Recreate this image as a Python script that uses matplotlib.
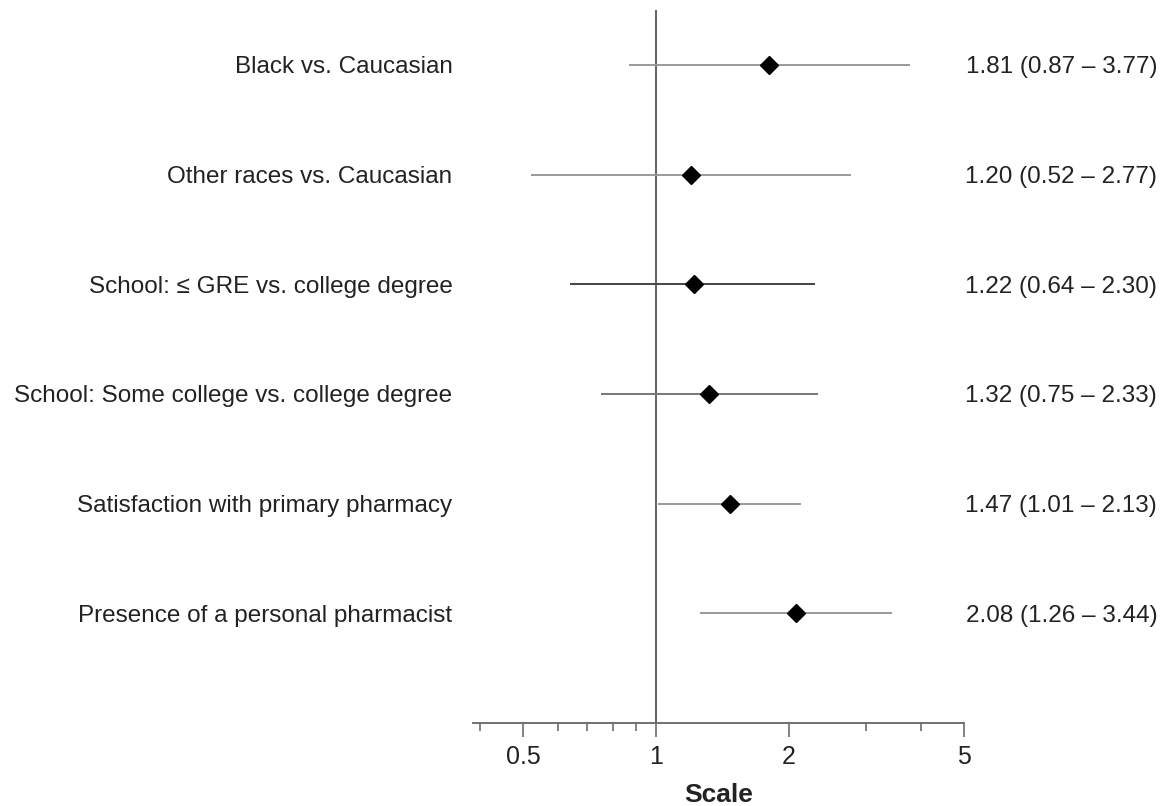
import matplotlib
matplotlib.use("Agg")
import matplotlib.pyplot as plt
from matplotlib.ticker import FixedLocator, NullFormatter
from matplotlib.transforms import offset_copy

plt.rcParams['font.family'] = ['Liberation Sans', 'DejaVu Sans']

labels = [
    "Black vs. Caucasian",
    "Other races vs. Caucasian",
    "School: \u2264 GRE vs. college degree",
    "School: Some college vs. college degree",
    "Satisfaction with primary pharmacy",
    "Presence of a personal pharmacist",
]
odds = [1.81, 1.20, 1.22, 1.32, 1.47, 2.08]
lower = [0.87, 0.52, 0.64, 0.75, 1.01, 1.26]
upper = [3.77, 2.77, 2.30, 2.33, 2.13, 3.44]
line_colors = ["#9a9a9a", "#9a9a9a", "#444444", "#777777", "#9a9a9a", "#9a9a9a"]

major_ticks = [0.5, 1, 2, 5]
minor_ticks = [0.4, 0.6, 0.7, 0.8, 0.9, 3, 4]

fig = plt.figure(figsize=(11.71, 8.06), dpi=100)
ax = fig.add_axes([473/1171, 1-723/806, (964-473)/1171, (723-10)/806])
ax.set_xscale('log')
ax.set_xlim(0.385, 5)
ax.set_ylim(7, 0.5)

ax.axvline(1, color="#555555", lw=1.3, zorder=1)

ytr = offset_copy(ax.get_yaxis_transform(), fig=fig, x=0, y=-8.5, units='dots')
for i, (lab, o, lo, hi, c) in enumerate(zip(labels, odds, lower, upper, line_colors)):
    y = i + 1
    ax.plot([lo, hi], [y, y], color=c, lw=1.4, zorder=2, solid_capstyle='butt')
    ax.plot([o], [y], marker='D', color='black', markersize=9, zorder=3, linestyle='none')
    ax.text(-0.042, y, lab, transform=ytr, ha='right', va='baseline',
            fontsize=17.5, color="#222222")
    ax.text(1.3935, y, f"{o:.2f} ({lo:.2f} \u2013 {hi:.2f})", transform=ytr,
            ha='right', va='baseline', fontsize=17.5, color="#222222")

for s in ['top', 'right', 'left']:
    ax.spines[s].set_visible(False)
ax.spines['bottom'].set_color("#666666")
ax.spines['bottom'].set_linewidth(1.3)
ax.set_yticks([])

ax.xaxis.set_major_locator(FixedLocator(major_ticks))
ax.xaxis.set_minor_locator(FixedLocator(minor_ticks))
ax.xaxis.set_minor_formatter(NullFormatter())
ax.set_xticklabels([str(t) for t in major_ticks])
ax.tick_params(axis='x', which='major', length=10, width=1.3, color="#777777",
               labelsize=18, labelcolor="#222222", pad=6)
ax.tick_params(axis='x', which='minor', length=6, width=1.3, color="#777777")
ax.set_xlabel("Scale", fontsize=19, fontweight='bold', color="#222222", labelpad=10)

fig.savefig("out.png", dpi=100)
